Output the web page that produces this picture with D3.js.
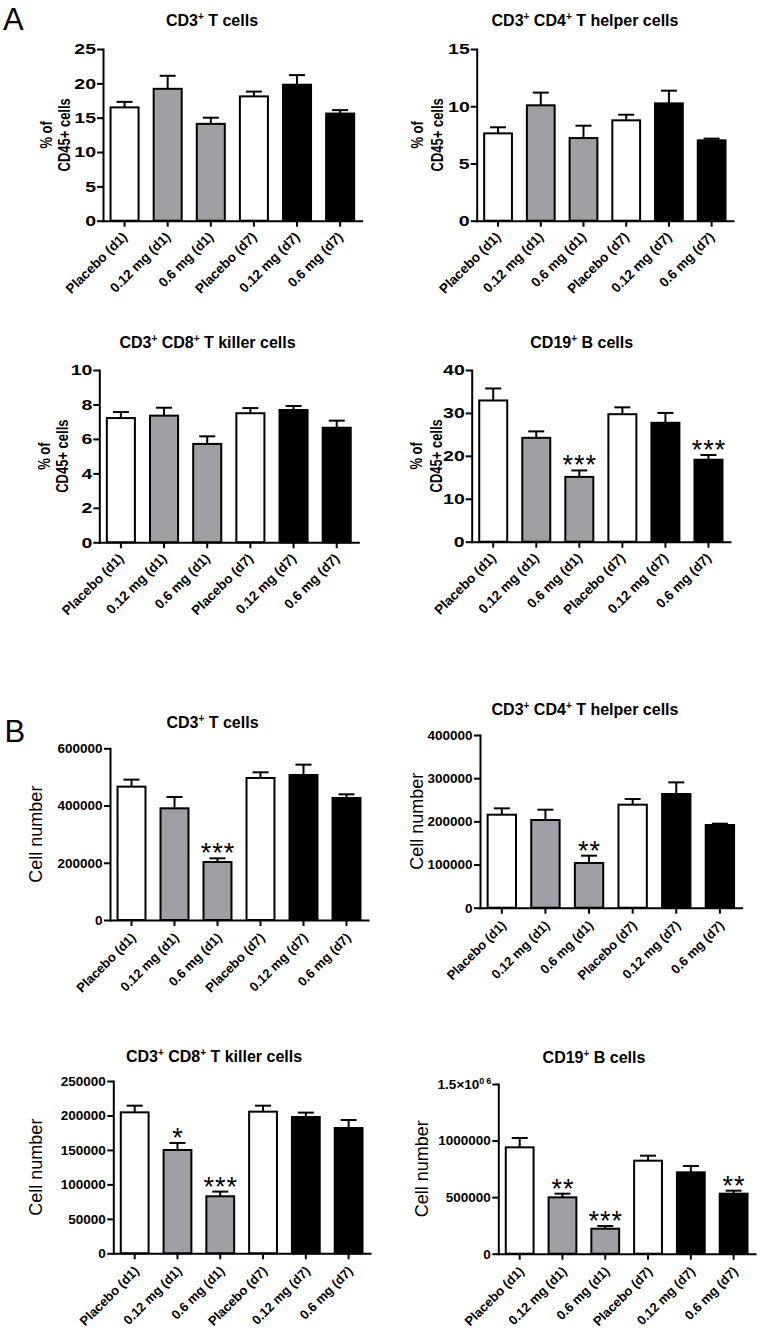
<!DOCTYPE html>
<html><head><meta charset="utf-8">
<script src="https://cdn.jsdelivr.net/npm/d3@7"></script>
<style>
body{margin:0;background:#fff}
svg{display:block}
text{font-family:"Liberation Sans",Arial,Helvetica,sans-serif}
</style>
</head><body>
<svg id="chart" width="761" height="1330"></svg>
<script>
// ---------------- data ----------------
const categories = ["Placebo (d1)", "0.12 mg (d1)", "0.6 mg (d1)", "Placebo (d7)", "0.12 mg (d7)", "0.6 mg (d7)"];
const barFills = ["#ffffff", "#a0a0a4", "#a0a0a4", "#ffffff", "#000000", "#000000"];
const panelLetters = ["A", "B"];

const titles = ["CD3^+ T cells", "CD3^+ CD4^+ T helper cells", "CD3^+ CD8^+ T killer cells", "CD19^+ B cells"];
const pctYLabel = ["% of", "CD45+ cells"];
const numYLabel = ["Cell number"];

// A: % of CD45+ cells (mean, SEM)
const pctCD3Mean  = [16.5, 19.2, 14.1, 18.1, 19.8, 15.6];
const pctCD3Sem   = [0.8, 1.9, 0.9, 0.7, 1.4, 0.5];
const pctCD4Mean  = [7.63, 10.08, 7.22, 8.77, 10.25, 7.02];
const pctCD4Sem   = [0.53, 1.11, 1.08, 0.49, 1.11, 0.15];
const pctCD8Mean  = [7.21, 7.35, 5.71, 7.49, 7.68, 6.65];
const pctCD8Sem   = [0.35, 0.46, 0.44, 0.30, 0.23, 0.41];
const pctCD19Mean = [32.9, 24.2, 15.1, 29.7, 27.7, 19.1];
const pctCD19Sem  = [2.8, 1.5, 1.5, 1.6, 2.3, 1.1];

// B: cell number (mean, SEM)
const numCD3Mean  = [466000, 390300, 202700, 496300, 506800, 426400];
const numCD3Sem   = [24500, 39600, 12800, 19800, 36100, 12800];
const numCD4Mean  = [215400, 203100, 103500, 238600, 263300, 191500];
const numCD4Sem   = [14700, 23900, 17000, 13100, 27000, 3100];
const numCD8Mean  = [204500, 149900, 82700, 205500, 197800, 181800];
const numCD8Sem   = [9700, 10200, 6800, 8700, 6300, 11600];
const numCD19Mean = [940100, 498000, 221000, 822200, 719100, 530500];
const numCD19Sem  = [82500, 32500, 23600, 44200, 55900, 26500];

// significance marks
const pctCD3Sig  = ["", "", "", "", "", ""];
const pctCD4Sig  = ["", "", "", "", "", ""];
const pctCD8Sig  = ["", "", "", "", "", ""];
const pctCD19Sig = ["", "", "***", "", "", "***"];
const numCD3Sig  = ["", "", "***", "", "", ""];
const numCD4Sig  = ["", "", "**", "", "", ""];
const numCD8Sig  = ["", "*", "***", "", "", ""];
const numCD19Sig = ["", "**", "***", "", "", "**"];

// y tick values
const pctCD3Ticks  = [0, 5, 10, 15, 20, 25];
const pctCD4Ticks  = [0, 5, 10, 15];
const pctCD8Ticks  = [0, 2, 4, 6, 8, 10];
const pctCD19Ticks = [0, 10, 20, 30, 40];
const numCD3Ticks  = [0, 200000, 400000, 600000];
const numCD4Ticks  = [0, 100000, 200000, 300000, 400000];
const numCD8Ticks  = [0, 50000, 100000, 150000, 200000, 250000];
const numCD19Ticks = [0, 500000, 1000000, 1500000];

// ---------------- layout (pixels) ----------------
const layout = [
  {left:103,   right:361.7, top:49,     bottom:220.7,  titleX:212,   titleY:26,     ylabX:[51.7, 70]},
  {left:476.7, right:733,   top:49,     bottom:220.7,  titleX:585,   titleY:26,     ylabX:[423.3, 443.3]},
  {left:99.3,  right:358.3, top:370,    bottom:542.3,  titleX:207.5, titleY:348.3,  ylabX:[50, 68.3]},
  {left:471.7, right:730,   top:370,    bottom:541.7,  titleX:581.7, titleY:348.3,  ylabX:[421.7, 441.7]},
  {left:110,   right:368,   top:748.3,  bottom:920,    titleX:212.5, titleY:728.3,  ylabX:[41.7]},
  {left:480,   right:741.7, top:735,    bottom:907.7,  titleX:585,   titleY:715,    ylabX:[423.3]},
  {left:113.3, right:370,   top:1081,   bottom:1253.3, titleX:214,   titleY:1061.7, ylabX:[41.7]},
  {left:498.3, right:755,   top:1084,   bottom:1253.7, titleX:594,   titleY:1063.3, ylabX:[428.3]}
];

const panels = [
  {part:"A", title:titles[0], mean:pctCD3Mean,  sem:pctCD3Sem,  sig:pctCD3Sig,  ticks:pctCD3Ticks,  ylab:pctYLabel},
  {part:"A", title:titles[1], mean:pctCD4Mean,  sem:pctCD4Sem,  sig:pctCD4Sig,  ticks:pctCD4Ticks,  ylab:pctYLabel},
  {part:"A", title:titles[2], mean:pctCD8Mean,  sem:pctCD8Sem,  sig:pctCD8Sig,  ticks:pctCD8Ticks,  ylab:pctYLabel},
  {part:"A", title:titles[3], mean:pctCD19Mean, sem:pctCD19Sem, sig:pctCD19Sig, ticks:pctCD19Ticks, ylab:pctYLabel},
  {part:"B", title:titles[0], mean:numCD3Mean,  sem:numCD3Sem,  sig:numCD3Sig,  ticks:numCD3Ticks,  ylab:numYLabel},
  {part:"B", title:titles[1], mean:numCD4Mean,  sem:numCD4Sem,  sig:numCD4Sig,  ticks:numCD4Ticks,  ylab:numYLabel},
  {part:"B", title:titles[2], mean:numCD8Mean,  sem:numCD8Sem,  sig:numCD8Sig,  ticks:numCD8Ticks,  ylab:numYLabel},
  {part:"B", title:titles[3], mean:numCD19Mean, sem:numCD19Sem, sig:numCD19Sig, ticks:numCD19Ticks, ylab:numYLabel}
];

const svg = d3.select("#chart");

// panel letters
svg.append("text").attr("x", 3).attr("y", 30).attr("font-size", 31).text(panelLetters[0]);
svg.append("text").attr("x", 4.5).attr("y", 741.7).attr("font-size", 31).text(panelLetters[1]);

panels.forEach((p, i) => {
  const L = layout[i];
  const isA = p.part === "A";
  const g = svg.append("g");

  const x = d3.scaleBand().domain(categories).range([L.left, L.right])
    .paddingInner(0.35).paddingOuter(0.175);
  const y = d3.scaleLinear().domain([0, d3.max(p.ticks)]).range([L.bottom, L.top]);
  const bw = x.bandwidth();

  // title with superscripts
  const t = g.append("text").attr("x", L.titleX).attr("y", L.titleY)
    .attr("text-anchor", "middle").attr("font-size", 16).attr("font-weight", "bold");
  const parts = p.title.split("^+");
  parts.forEach((s, k) => {
    t.append("tspan").attr("dy", k === 0 ? 0 : 6).text(s);
    if (k < parts.length - 1) t.append("tspan").attr("font-size", 10).attr("dy", -6).text("+");
  });

  // bars
  g.selectAll("rect.bar").data(categories).enter().append("rect")
    .attr("class", "bar")
    .attr("x", c => x(c))
    .attr("y", (c, j) => y(p.mean[j]))
    .attr("width", bw)
    .attr("height", (c, j) => y(0) - y(p.mean[j]))
    .attr("fill", (c, j) => barFills[j])
    .attr("stroke", "#000").attr("stroke-width", 2);

  // error bars (upper only)
  const eb = g.selectAll("g.err").data(categories).enter().append("g").attr("class", "err");
  eb.append("line")
    .attr("x1", c => x(c) + bw / 2).attr("x2", c => x(c) + bw / 2)
    .attr("y1", (c, j) => y(p.mean[j])).attr("y2", (c, j) => y(p.mean[j] + p.sem[j]))
    .attr("stroke", "#000").attr("stroke-width", 2);
  eb.append("line")
    .attr("x1", c => x(c) + bw / 2 - 8).attr("x2", c => x(c) + bw / 2 + 8)
    .attr("y1", (c, j) => y(p.mean[j] + p.sem[j])).attr("y2", (c, j) => y(p.mean[j] + p.sem[j]))
    .attr("stroke", "#000").attr("stroke-width", 2);

  // significance stars
  g.selectAll("text.sig").data(categories).enter().append("text")
    .attr("class", "sig")
    .attr("x", c => x(c) + bw / 2 + 0.5)
    .attr("y", (c, j) => y(p.mean[j] + p.sem[j]) + 4)
    .attr("text-anchor", "middle").attr("font-size", 27).attr("letter-spacing", 1)
    .text((c, j) => p.sig[j]);

  // y axis
  const yAxis = d3.axisLeft(y).tickValues(p.ticks).tickSize(6).tickSizeOuter(0)
    .tickPadding(2).tickFormat(d => d === 1500000 ? "" : d3.format("d")(d));
  const ya = g.append("g").attr("transform", `translate(${L.left},0)`).call(yAxis);
  ya.select(".domain").attr("stroke-width", 2).attr("stroke-linecap", "square");
  ya.selectAll(".tick line").attr("stroke-width", 2);
  ya.selectAll(".tick text").attr("fill", "#000").attr("font-weight", "bold")
    .attr("font-family", null);
  if (isA) {
    ya.selectAll(".tick text").attr("font-size", 15).attr("x", -7 / 1.3)
      .attr("transform", "scale(1.3,1)");
  } else {
    ya.selectAll(".tick text").attr("font-size", 13.5).attr("x", -7.5);
    ya.selectAll(".tick").filter(d => d === 1500000).select("text").each(function () {
      const tx = d3.select(this);
      tx.append("tspan").text("1.5×10");
      tx.append("tspan").attr("font-size", 9).attr("dy", -5).attr("letter-spacing", 2).text("06");
      tx.attr("x", -5);
    });
  }

  // x axis
  const xAxis = d3.axisBottom(x).tickSize(6).tickSizeOuter(0);
  const xa = g.append("g").attr("transform", `translate(0,${L.bottom})`).call(xAxis);
  xa.select(".domain").attr("stroke-width", 2).attr("stroke-linecap", "square");
  xa.selectAll(".tick line").attr("stroke-width", 2);
  xa.selectAll(".tick text")
    .attr("x", 0).attr("y", 0).attr("dy", 0)
    .attr("text-anchor", "end").attr("fill", "#000").attr("font-weight", "bold")
    .attr("font-family", null)
    .attr("font-size", isA ? 13.5 : 13)
    .attr("transform", isA ? "translate(3.5,17) rotate(-45)" : "translate(5,18.5) rotate(-45)");

  // y label
  const cy = (L.top + L.bottom) / 2;
  p.ylab.forEach((s, k) => {
    g.append("text")
      .attr("text-anchor", "middle")
      .attr("transform", isA
        ? `translate(${L.ylabX[k]},${cy}) rotate(-90) scale(1,1.2)`
        : `translate(${L.ylabX[k]},${cy}) rotate(-90)`)
      .attr("font-size", isA ? 13 : 18)
      .attr("font-weight", isA ? "bold" : "normal")
      .text(s);
  });
});
</script>
</body></html>
